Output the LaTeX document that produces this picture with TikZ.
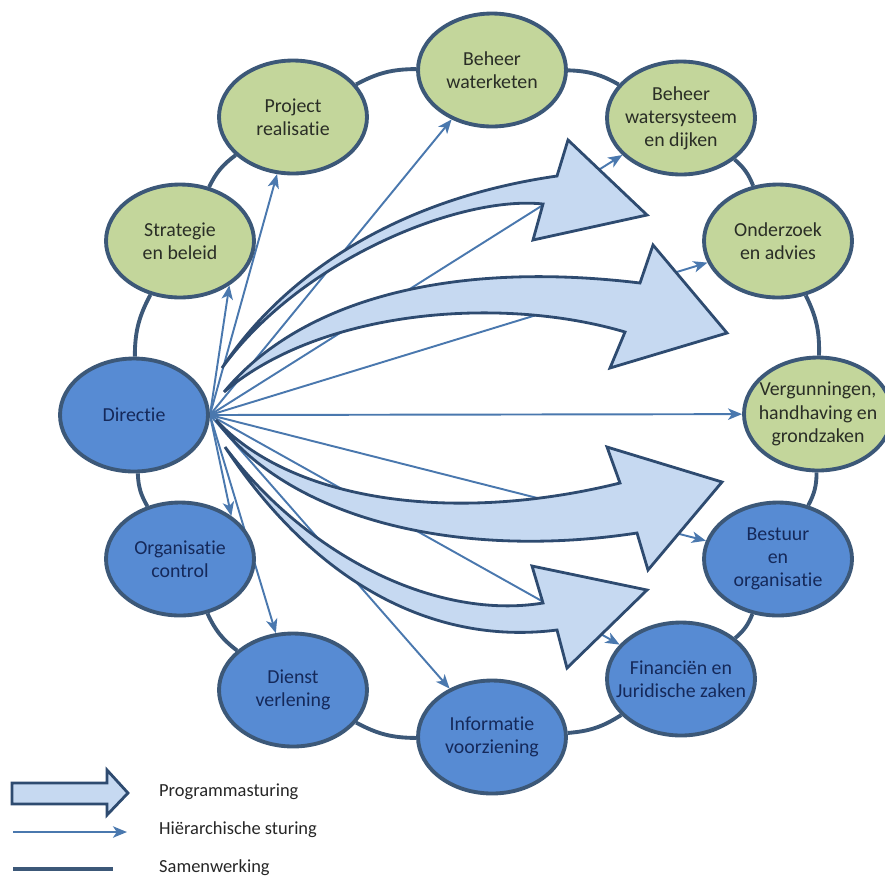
\documentclass[tikz,border=0pt]{standalone}
\usepackage{fontspec}
\setmainfont{Carlito}[Ligatures=NoCommon]
\usetikzlibrary{arrows.meta,shapes.geometric,backgrounds}
\definecolor{olijf}{HTML}{C3D69B}
\definecolor{zeeblauw}{HTML}{578BD3}
\definecolor{rand}{HTML}{3C5878}
\definecolor{lijn}{HTML}{4A78AE}
\definecolor{pijlvul}{HTML}{C6D9F1}
\definecolor{pijlrand}{HTML}{2E4B70}
\definecolor{tekstblauw}{HTML}{15295A}
\definecolor{tekstgroen}{HTML}{2A2E26}
\tikzset{
  afdeling/.style={
    ellipse, draw=rand, fill=#1, line width=2.2pt,
    minimum width=2.96cm, minimum height=2.26cm,
    inner xsep=-8pt, inner ysep=-4pt,
    font=\fontsize{11.3}{13.2}\selectfont, align=center
  },
  afdeling/.default=olijf,
  groen/.style={afdeling=olijf, text=tekstgroen},
  blauw/.style={afdeling=zeeblauw, text=tekstblauw},
  samen/.style={draw=rand, line width=2.2pt},
  hier/.style={
    draw=lijn, line width=1.1pt,
    -{Stealth[length=8pt, width=6.5pt, inset=2.2pt]}
  },
  prog/.style={
    draw=pijlrand, fill=pijlvul, line width=1.6pt, line join=miter
  },
  legtekst/.style={
    font=\fontsize{10.5}{12}\selectfont, text=black!85, anchor=west
  },
}

\begin{document}
\begin{tikzpicture}[x=0.02cm, y=-0.02cm]
  \useasboundingbox (0,0) rectangle (885,880);

  % ring of departments
  \node[blauw] (dir) at (134,415) {Directie};
  \node[groen] (str) at (180,241) {Strategie\\en beleid};
  \node[groen] (prj) at (293,117) {Project\\realisatie};
  \node[groen] (wk)  at (492,70)  {Beheer\\waterketen};
  \node[groen] (ws)  at (681,118) {Beheer\\watersysteem\\en dijken};
  \node[groen] (ond) at (778,241) {Onderzoek\\en advies};
  \node[groen] (ver) at (818,414) {Vergunningen,\\handhaving en\\grondzaken};
  \node[blauw] (bes) at (778,559) {Bestuur\\en\\organisatie};
  \node[blauw] (fin) at (681,679) {Financiën en\\Juridische zaken};
  \node[blauw] (inf) at (492,737) {Informatie\\voorziening};
  \node[blauw] (die) at (293,690) {Dienst\\verlening};
  \node[blauw] (org) at (180,559) {Organisatie\\control};

  \begin{scope}[on background layer]
    % samenwerking
    \foreach \a/\b in {dir/str,str/prj,prj/wk,wk/ws,ws/ond,ond/ver,
                       ver/bes,bes/fin,fin/inf,inf/die,die/org,org/dir}
      \draw[samen] (\a) to[bend left=14] (\b);

    % hierarchische sturing
    \draw[hier] (dir.east) -- (str.-42);
    \draw[hier] (dir.east) -- (org.40);
    \foreach \doel in {prj,wk,ws,ond,ver,bes,fin,inf,die}
      \draw[hier] (dir.east) -- (\doel);

    % programmasturing
    \filldraw[prog] (222,368) .. controls (280,280) and (390,200) .. (557,176)
      -- (568,140) -- (647,215) -- (533,240) -- (543,204)
      .. controls (460,195) and (300,260) .. (222,368) -- cycle;
    \filldraw[prog] (224,392) .. controls (300,300) and (450,260) .. (640,283)
      -- (653,245) -- (727,333) -- (610,368) -- (625,332)
      .. controls (500,295) and (320,310) .. (224,392) -- cycle;
    \filldraw[prog] (216,420) .. controls (290,500) and (450,525) .. (620,483)
      -- (607,447) -- (722,482) -- (648,570) -- (637,533)
      .. controls (460,560) and (290,520) .. (216,420) -- cycle;
    \filldraw[prog] (225,447) .. controls (310,560) and (440,620) .. (543,603)
      -- (532,566) -- (647,590) -- (567,668) -- (557,630)
      .. controls (440,645) and (320,590) .. (225,447) -- cycle;
  \end{scope}

  % legenda
  \filldraw[prog] (12,783) -- (107,783) -- (107,770) -- (128,793)
    -- (107,815) -- (107,804) -- (12,804) -- cycle;
  \coordinate (hstart) at (13,832);
  \coordinate (heind) at (127,832);
  \draw[hier] (hstart) -- (heind);
  \coordinate (sstart) at (13,869);
  \coordinate (seind) at (113,869);
  \draw[samen] (sstart) -- (seind);
  \node[legtekst] (lprog) at (153,792) {Programmasturing};
  \node[legtekst] (lhier) at (153,830) {Hiërarchische sturing};
  \node[legtekst] (lsamen) at (153,868) {Samenwerking};
\end{tikzpicture}
\end{document}
